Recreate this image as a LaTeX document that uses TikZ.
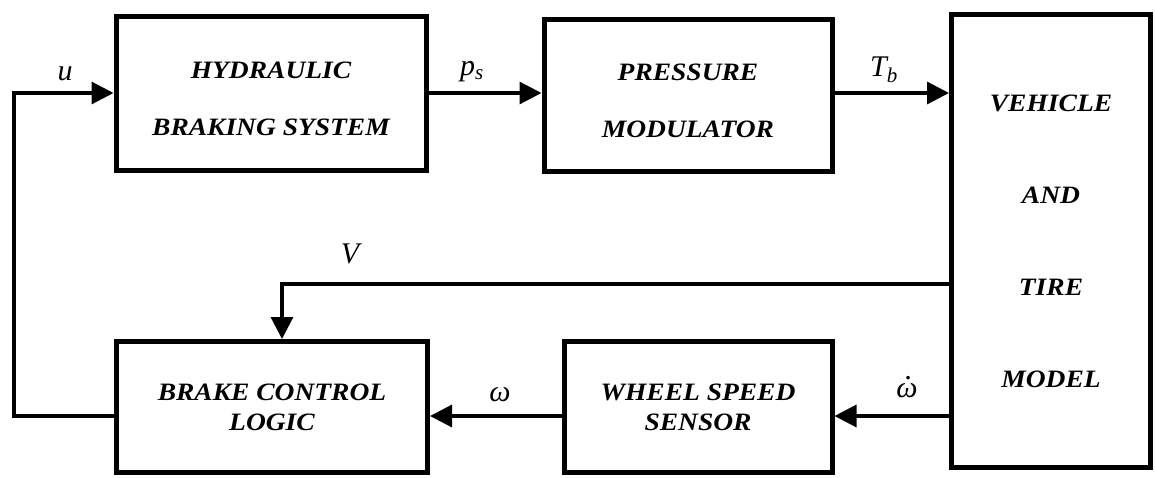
\documentclass[tikz,border=0pt]{standalone}
\usepackage{fontspec}
\setmainfont{Liberation Serif}
\newfontfamily\boxfont{Liberation Serif}[FakeStretch=1.1]
\usetikzlibrary{arrows.meta}
\newcommand{\dotomega}{\ooalign{ω\cr\hidewidth\kern0.12em\raisebox{0.58em}{.}\hidewidth\cr}}
\newcommand{\topstrut}{\rule{0pt}{29pt}}
\begin{document}
\begin{tikzpicture}[x=1pt,y=-1pt,
  blk/.style={draw, line width=5pt, inner sep=0pt, align=center,
    font={\boxfont\bfseries\itshape\fontsize{25pt}{28pt}\selectfont}},
  conn/.style={line width=3.2pt, -{Triangle[length=22pt,width=22pt]}},
  lbl/.style={inner sep=0pt, font={\itshape\fontsize{30pt}{34pt}\selectfont}}]
\fill[white] (0,0) rectangle (1155,477);
\useasboundingbox (0,0) rectangle (1155,477);

% blocks
\node[blk, minimum width=310pt, minimum height=154pt] (hyd) at (271,93)
  {\topstrut HYDRAULIC\\[29pt]BRAKING SYSTEM};
\node[blk, minimum width=288pt, minimum height=152pt] (pres) at (688,95)
  {\topstrut PRESSURE\\[29pt]MODULATOR};
\node[blk, minimum width=199pt, minimum height=453pt] (veh) at (1051,241)
  {VEHICLE\\[64pt]AND\\[64pt]TIRE\\[64pt]MODEL};
\node[blk, minimum width=311pt, minimum height=131pt] (brake) at (272,407)
  {BRAKE CONTROL\\[2pt]LOGIC};
\node[blk, minimum width=268pt, minimum height=131pt] (wheel) at (698,407)
  {WHEEL SPEED\\[2pt]SENSOR};

% helper coordinates
\coordinate (ytop) at (0,93);
\coordinate (yv) at (0,284);
\coordinate (ybot) at (0,416);
\coordinate (xfb) at (14,0);
\coordinate (xv) at (282,0);

% connectors
\draw[conn] (brake.west |- ybot) -| (xfb |- ytop) -- (hyd.west |- ytop);
\draw[conn] (hyd.east |- ytop) -- (pres.west |- ytop);
\draw[conn] (pres.east |- ytop) -- (veh.west |- ytop);
\draw[conn] (veh.west |- yv) -| (brake.north -| xv);
\draw[conn] (veh.west |- ybot) -- (wheel.east |- ybot);
\draw[conn] (wheel.west |- ybot) -- (brake.east |- ybot);

% labels
\node[lbl] (lu) at (65,74) {u};
\node[lbl] (lps) at (472,72) {p\textsubscript{s}};
\node[lbl] (ltb) at (884,70) {T\textsubscript{b}};
\node[lbl] (lv) at (350,254) {V};
\node[lbl] (lw) at (500,395) {ω};
\node[lbl] (lwd) at (907,390) {\dotomega};
\end{tikzpicture}
\end{document}
